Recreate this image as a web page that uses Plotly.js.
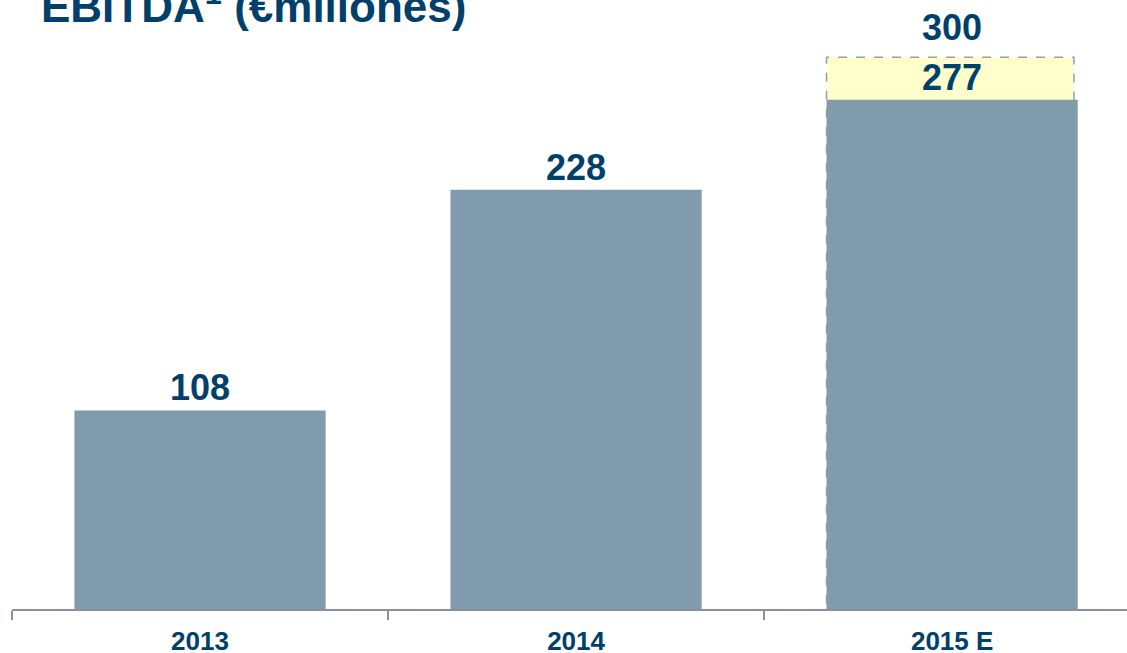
<!DOCTYPE html>
<html>
<head>
<meta charset="utf-8">
<script src="https://cdn.plot.ly/plotly-3.0.1.min.js"></script>
<style>
html,body{margin:0;padding:0;background:#fff;overflow:hidden;}
#chart{width:1127px;height:653px;}
</style>
</head>
<body>
<div id="chart"></div>
<script>
// Data
const categories = ["2013", "2014", "2015 E"];
const ebitda = [108, 228, 277];
const estimateCategory = "2015 E";
const estimateHigh = 300;
const titleText = "EBITDA<sup>1</sup> (€millones)";

const barColor = "#7F9BAC";
const textColor = "#00406A";
const fontFam = "Arial, 'Liberation Sans', sans-serif";
const barWidth = 0.668;

const estIdx = categories.indexOf(estimateCategory);

const traces = [{
  type: "bar",
  x: categories,
  y: ebitda,
  width: barWidth,
  marker: {color: barColor, line: {width: 0}},
  hoverinfo: "x+y"
}];

const annotations = categories.map((c, i) => ({
  x: i, y: ebitda[i], xref: "x", yref: "y",
  text: String(ebitda[i]), showarrow: false,
  yanchor: "bottom", yshift: 0,
  font: {family: fontFam, size: 36, color: textColor, weight: "bold"}
}));
annotations.push({
  x: estIdx, y: estimateHigh, xref: "x", yref: "y",
  text: String(estimateHigh), showarrow: false,
  yanchor: "bottom", yshift: 7,
  font: {family: fontFam, size: 36, color: textColor, weight: "bold"}
});
annotations.push({
  x: 0.024, y: 1.031, xref: "paper", yref: "paper",
  xanchor: "left", yanchor: "bottom", showarrow: false,
  text: titleText,
  font: {family: fontFam, size: 44, color: textColor, weight: "bold"}
});

const shapes = [{
  type: "rect", layer: "below", xref: "x", yref: "y",
  x0: estIdx - barWidth / 2, x1: estIdx + barWidth / 2 - 0.01,
  y0: 0, y1: estimateHigh,
  fillcolor: "#FFFFCC",
  line: {color: "#8FA2AE", width: 1.5, dash: "dash"}
}];

const layout = {
  width: 1127, height: 653,
  margin: {l: 12, r: 0, t: 50, b: 44},
  paper_bgcolor: "#fff", plot_bgcolor: "#fff",
  showlegend: false,
  xaxis: {
    type: "category",
    range: [-0.5, 2.465],
    showgrid: false, zeroline: false,
    showline: true, linecolor: "#8A9099", linewidth: 2,
    ticks: "outside", tickson: "boundaries", ticklen: 9, tickwidth: 1.5, tickcolor: "#8A9099",
    ticklabelstandoff: 8,
    tickfont: {family: fontFam, size: 26, color: textColor, weight: "bold"},
    fixedrange: true
  },
  yaxis: {
    range: [0, 304],
    visible: false, showgrid: false, zeroline: false,
    fixedrange: true
  },
  annotations: annotations,
  shapes: shapes
};

Plotly.newPlot("chart", traces, layout, {displayModeBar: false, staticPlot: true});
</script>
</body>
</html>
